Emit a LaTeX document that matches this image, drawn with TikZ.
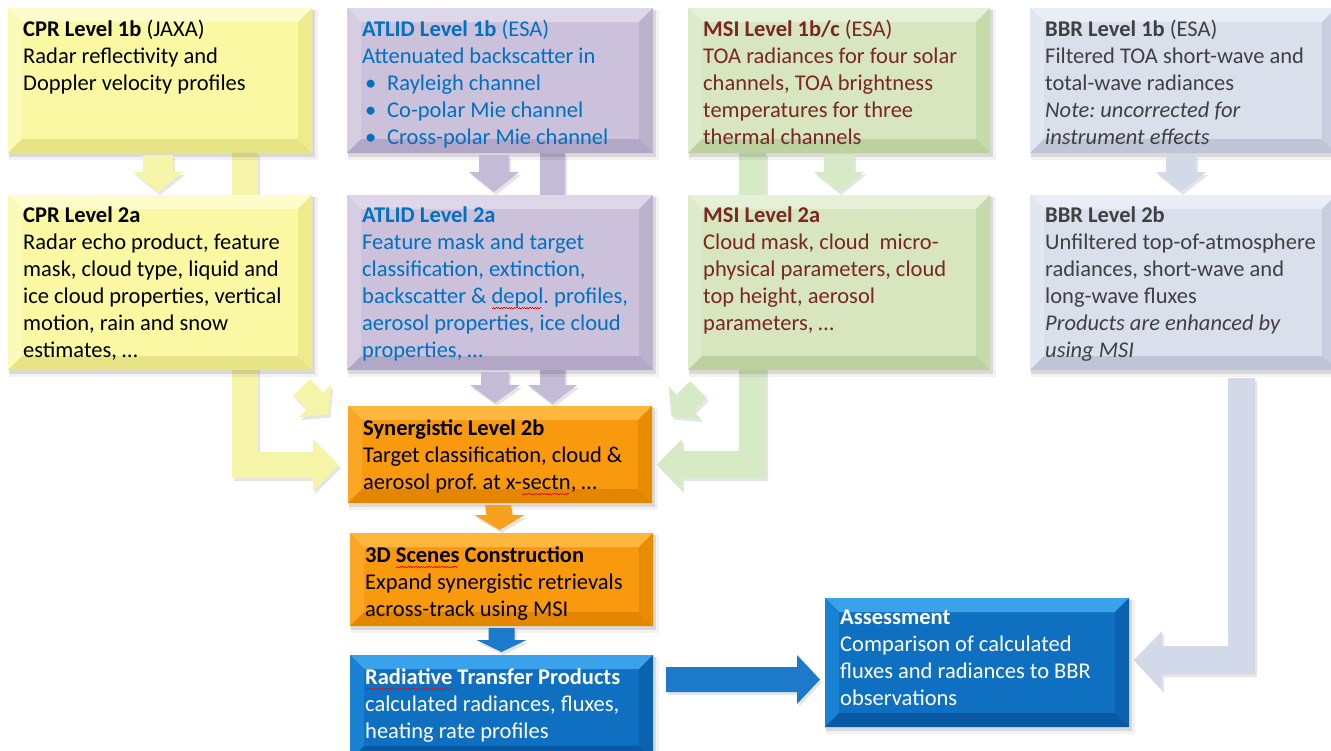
\documentclass[tikz,border=0pt]{standalone}
\usepackage{fontspec}
\setmainfont{Carlito}
\usetikzlibrary{calc}
\pgfdeclarelayer{bg}\pgfdeclarelayer{arr}\pgfsetlayers{bg,arr,main}
\frenchspacing
% box colours
\definecolor{yface}{HTML}{FAF8A2}\definecolor{ytop}{HTML}{FDFCCB}\definecolor{yleft}{HTML}{FBFAB8}\definecolor{yright}{HTML}{EDEB8C}\definecolor{ybot}{HTML}{E6E484}
\definecolor{pface}{HTML}{CCC1DA}\definecolor{ptop}{HTML}{DED6E9}\definecolor{pleft}{HTML}{D6CDE3}\definecolor{pright}{HTML}{BDB2CE}\definecolor{pbot}{HTML}{B2A7C6}
\definecolor{gface}{HTML}{D7E6BE}\definecolor{gtop}{HTML}{E6F0D6}\definecolor{gleft}{HTML}{DEEBCA}\definecolor{gright}{HTML}{C7DAAB}\definecolor{gbot}{HTML}{BDD19F}
\definecolor{bface}{HTML}{DADFEC}\definecolor{btop}{HTML}{E9EDF6}\definecolor{bleft}{HTML}{E1E6F1}\definecolor{bright}{HTML}{C8CEDD}\definecolor{bbot}{HTML}{BFC5D6}
\definecolor{oface}{HTML}{F99A0E}\definecolor{otop}{HTML}{FDB73F}\definecolor{oleft}{HTML}{FBA624}\definecolor{oright}{HTML}{E98D00}\definecolor{obot}{HTML}{E38700}
\definecolor{lface}{HTML}{0F70C2}\definecolor{ltop}{HTML}{3AA2EA}\definecolor{lleft}{HTML}{1A82D3}\definecolor{lright}{HTML}{0B62AD}\definecolor{lbot}{HTML}{095AA2}
% arrow colours
\definecolor{yarr}{HTML}{F5F4A9}\definecolor{parr}{HTML}{C4BBD6}\definecolor{garr}{HTML}{D6EAC6}
\definecolor{barr}{HTML}{D2D9E8}\definecolor{oarr}{HTML}{F8A11C}\definecolor{blarr}{HTML}{1D7ACB}
% text colours
\definecolor{atext}{HTML}{0070C0}\definecolor{mtext}{HTML}{7A2626}\definecolor{btext}{HTML}{404040}
\newsavebox\rwbox
\newcommand\rw[1]{\sbox\rwbox{#1}\rlap{\textcolor{red}{\hbox to \wd\rwbox{\leaders\hbox{\rule[-5.6pt]{1.3pt}{0.7pt}\rule[-4.6pt]{1.3pt}{0.7pt}}\hfill}}}#1}
\newcommand\bul{\hspace*{3pt}\makebox[22pt][l]{•}}
\tikzset{
  boxnode/.style={inner sep=0pt,outer sep=0pt,draw=none},
  txt/.style={anchor=north west,inner sep=0pt,align=left,font=\fontsize{22.5}{27}\selectfont},
  ashadow/.style={preaction={fill=black,opacity=.10,transform canvas={shift={(2pt,-3pt)}}}}
}
\newcommand\bevelbox[9]{%
  \fill[black,opacity=.05] (#2+1,#3+2) rectangle (#4+6,#5+7);
  \fill[black,opacity=.10] (#2+1,#3+2) rectangle (#4+3,#5+4);
  \fill[#6face] (#2,#3) rectangle (#4,#5);
  \fill[#6top] (#2,#3) -- (#4,#3) -- (#4-14,#3+14) -- (#2+14,#3+14) -- cycle;
  \fill[#6left] (#2,#3) -- (#2+14,#3+14) -- (#2+14,#5-14) -- (#2,#5) -- cycle;
  \fill[#6right] (#4,#3) -- (#4,#5) -- (#4-14,#5-14) -- (#4-14,#3+14) -- cycle;
  \fill[#6bot] (#2,#5) -- (#4,#5) -- (#4-14,#5-14) -- (#2+14,#5-14) -- cycle;
  \node[boxnode,minimum width={#4-#2},minimum height={#5-#3}] (#1) at ({(#2+#4)/2},{(#3+#5)/2}) {};
  \node[txt,text=#7] (#1-t) at (#2+15,#3+#8-20) {\rule{0pt}{20pt}#9};
}
% vertical chevron arrow between two nodes
\newcommand\chev[7]{%
  \fill[#4,ashadow] ($(#1.south)+(#3-#6,2)$) -- ($(#1.south)+(#3+#6,2)$) -- ($(#2.north)+(#3+#6,-3-#5)$)
   -- ($(#2.north)+(#3+#7,-3-#5)$) -- ($(#2.north)+(#3,-3)$) -- ($(#2.north)+(#3-#7,-3-#5)$)
   -- ($(#2.north)+(#3-#6,-3-#5)$) -- cycle;}
% small diagonal chevron
\newcommand\smallchev[3]{%
  \fill[#3,ashadow,shift={(#1)},rotate=#2] (-12,-19) -- (12,-19) -- (12,0) -- (23,0) -- (0,19) -- (-23,0) -- (-12,0) -- cycle;}
\begin{document}
\begin{tikzpicture}[x=1pt,y=-1pt]
\useasboundingbox (0,0) rectangle (1331,750);
\begin{pgfonlayer}{bg}\fill[white] (0,0) rectangle (1331,750);\end{pgfonlayer}

\bevelbox{cpr1}{8}{8}{312}{153}{y}{black}{28}{\textbf{CPR Level 1b} (JAXA)\\Radar reflectivity and\\Doppler velocity profiles}
\bevelbox{atl1}{347}{8}{653}{153}{p}{atext}{28}{\textbf{ATLID Level 1b} (ESA)\\Attenuated backscatter in\\\bul Rayleigh channel\\\bul Co-polar Mie channel\\\bul Cross-polar Mie channel}
\bevelbox{msi1}{688}{8}{990}{153}{g}{mtext}{28}{\textbf{MSI Level 1b/c} (ESA)\\TOA radiances for four solar\\channels, TOA brightness\\temperatures for three\\thermal channels}
\bevelbox{bbr1}{1030}{8}{1336}{153}{b}{btext}{28}{\textbf{BBR Level 1b} (ESA)\\Filtered TOA short-wave and\\total-wave radiances\\\textit{Note: uncorrected for}\\\textit{instrument effects}}

\bevelbox{cpr2}{8}{195}{312}{370}{y}{black}{27}{\textbf{CPR Level 2a}\\Radar echo product, feature\\mask, cloud type, liquid and\\ice cloud properties, vertical\\motion, rain and snow\\estimates, …}
\bevelbox{atl2}{347}{195}{653}{370}{p}{atext}{27}{\textbf{ATLID Level 2a}\\Feature mask and target\\classification, extinction,\\backscatter \& \rw{depol}. profiles,\\aerosol properties, ice cloud\\properties, …}
\bevelbox{msi2}{688}{195}{990}{370}{g}{mtext}{27}{\textbf{MSI Level 2a}\\Cloud mask, cloud\ \ micro-\\physical parameters, cloud\\top height, aerosol\\parameters, …}
\bevelbox{bbr2}{1030}{195}{1336}{370}{b}{btext}{27}{\textbf{BBR Level 2b}\\Unfiltered top-of-atmosphere\\radiances, short-wave and\\long-wave fluxes\\\textit{Products are enhanced by}\\\textit{using MSI}}

\bevelbox{syn}{348}{406}{652}{503}{o}{black}{29}{\textbf{Synergistic Level 2b}\\Target classification, cloud \&\\aerosol prof. at x-\rw{sectn}, …}
\bevelbox{scn}{350}{533}{653}{626}{o}{black}{29}{\textbf{3D \rw{Scenes} Construction}\\Expand synergistic retrievals\\across-track using MSI}
\bevelbox{rt}{350}{655}{653}{760}{l}{white}{29}{\textbf{\rw{Radiative} Transfer Products}\\calculated radiances, fluxes,\\heating rate profiles}
\bevelbox{ass}{825}{598}{1129}{727}{l}{white}{26}{\textbf{Assessment}\\Comparison of calculated\\fluxes and radiances to BBR\\observations}

% bypass arrows (behind the boxes)
\begin{pgfonlayer}{arr}
\fill[yarr,ashadow] ($(cpr1.south east)+(-80,0)$) -- ($(cpr1.south east)+(-54,0)$)
  -- ($(cpr1.south east |- syn.west)+(-54,-2.5)$) -- ($(syn.west)+(-35,-2.5)$)
  -- ($(syn.west)+(-35,-15.5)$) -- ($(syn.west)+(-9,10.5)$) -- ($(syn.west)+(-35,36.5)$)
  -- ($(syn.west)+(-35,23.5)$) -- ($(cpr1.south east |- syn.west)+(-80,23.5)$) -- cycle;
\fill[garr,ashadow] ($(msi1.south west)+(51,0)$) -- ($(msi1.south west)+(78,0)$)
  -- ($(msi1.south west |- syn.east)+(78,23.5)$) -- ($(syn.east)+(30,23.5)$)
  -- ($(syn.east)+(30,35.5)$) -- ($(syn.east)+(5,10)$) -- ($(syn.east)+(30,-15.5)$)
  -- ($(syn.east)+(30,-3.5)$) -- ($(msi1.south west |- syn.east)+(51,-3.5)$) -- cycle;
\fill[parr,ashadow] ($(atl1.south)+(40,0)$) -- ($(atl1.south)+(65,0)$) -- ($(syn.north)+(65,-21)$)
  -- ($(syn.north)+(77,-21)$) -- ($(syn.north)+(52.5,-2)$) -- ($(syn.north)+(28,-21)$)
  -- ($(syn.north)+(40,-21)$) -- cycle;
\fill[barr,ashadow] ($(bbr2.south west)+(198,8)$) -- ($(bbr2.south west)+(225,8)$)
  -- ($(bbr2.south west |- ass.east)+(225,11.5)$) -- ($(ass.east)+(33,11.5)$)
  -- ($(ass.east)+(33,27.5)$) -- ($(ass.east)+(5,-2.5)$) -- ($(ass.east)+(33,-31.5)$)
  -- ($(ass.east)+(33,-16.5)$) -- ($(bbr2.south west |- ass.east)+(198,-16.5)$) -- cycle;
\end{pgfonlayer}

% chevrons between boxes
\chev{cpr1}{cpr2}{-2}{yarr}{20}{15}{25}
\chev{atl1}{atl2}{-6}{parr}{20}{15}{25}
\chev{msi1}{msi2}{0}{garr}{20}{15}{25}
\chev{bbr1}{bbr2}{-2}{barr}{20}{15}{25}
\chev{atl2}{syn}{-5}{parr}{18}{14}{25}
\chev{syn}{scn}{-2}{oarr}{15}{13}{25}
\chev{scn}{rt}{0}{blarr}{12}{13}{25}

% small diagonal arrows towards the synergistic box
\smallchev{$(syn.north west)+(-33,-5)$}{45}{yarr}
\smallchev{$(syn.north east)+(33,-3)$}{-45}{garr}

% radiative transfer -> assessment
\fill[blarr,ashadow] ($(rt.east |- ass.west)+(13,4.5)$) -- ($(ass.west)+(-28,4.5)$)
  -- ($(ass.west)+(-28,-7.5)$) -- ($(ass.west)+(-5,17)$) -- ($(ass.west)+(-28,41.5)$)
  -- ($(ass.west)+(-28,29.5)$) -- ($(rt.east |- ass.west)+(13,29.5)$) -- cycle;
\end{tikzpicture}
\end{document}
